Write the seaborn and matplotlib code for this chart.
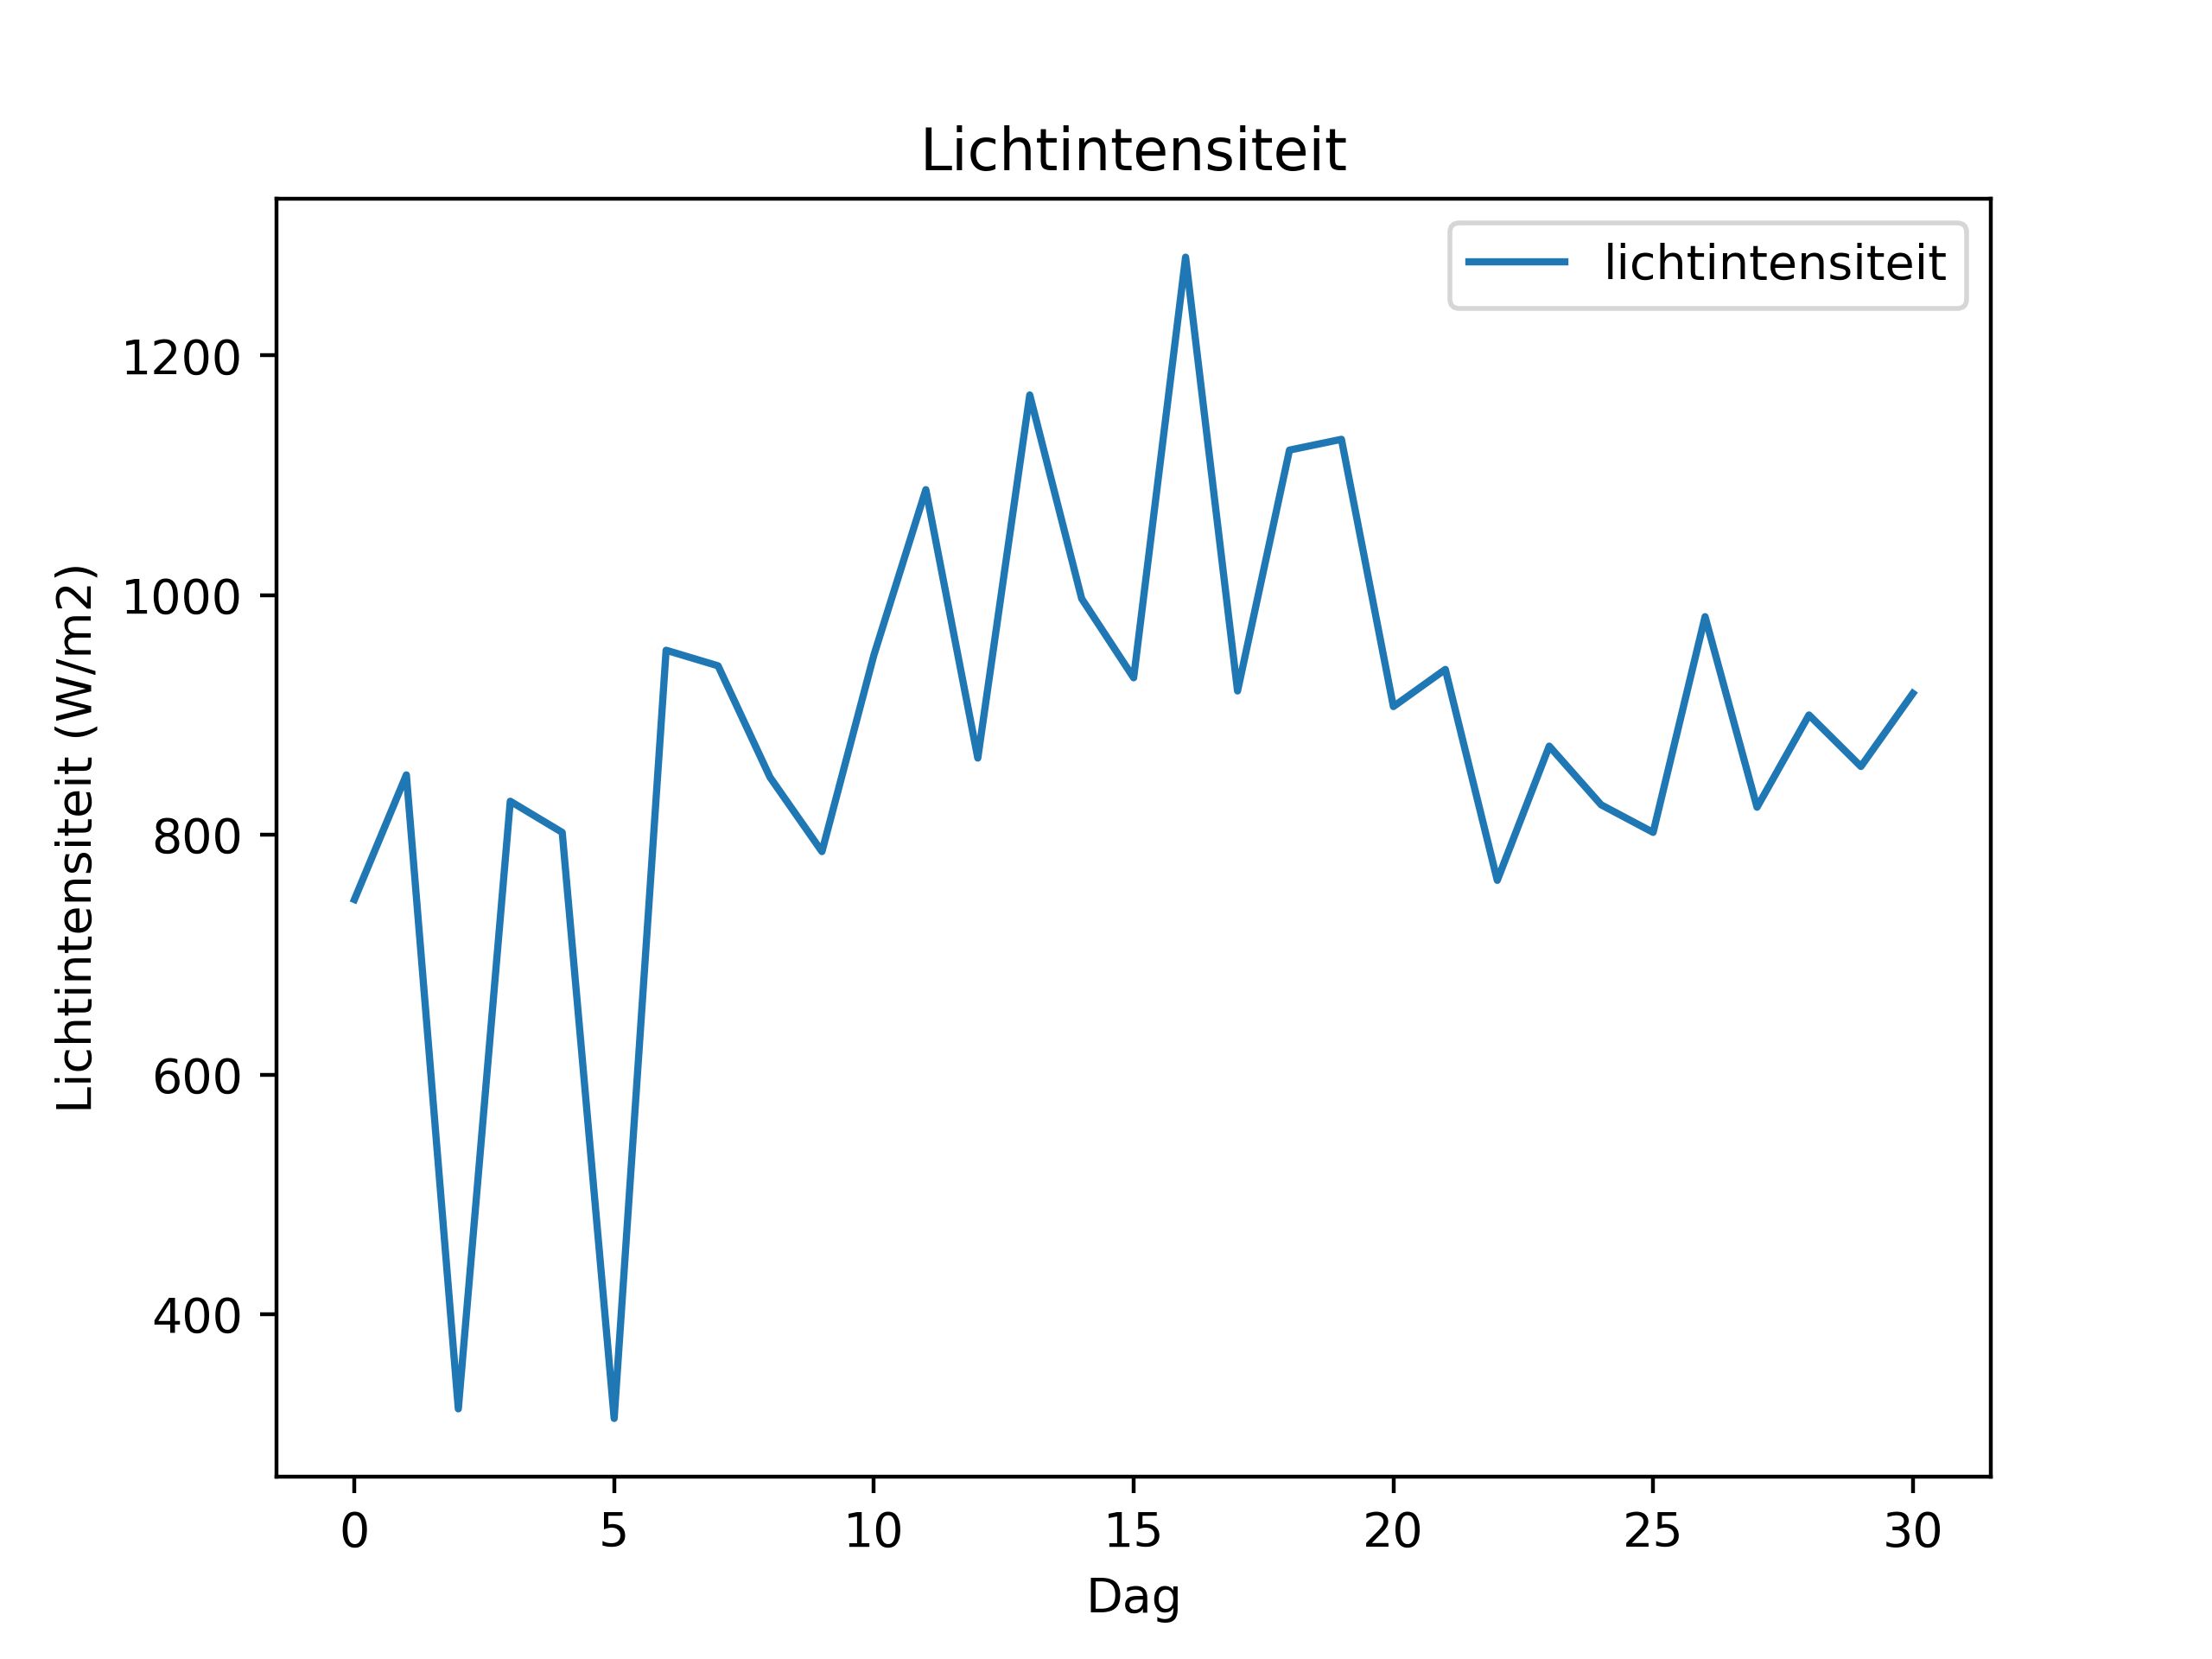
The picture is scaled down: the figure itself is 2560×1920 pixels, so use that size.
import matplotlib
matplotlib.use("Agg")
import matplotlib.pyplot as plt
import seaborn as sns
import pandas as pd

dag = list(range(31))
lichtintensiteit = [746, 850, 321, 828, 802, 313, 954, 941, 848, 786,
                    950, 1088, 864, 1167, 997, 931, 1282, 920, 1121, 1130,
                    907, 938, 762, 874, 825, 802, 982, 823, 900, 857, 918]

df = pd.DataFrame({"Dag": dag, "lichtintensiteit": lichtintensiteit})

fig, ax = plt.subplots(figsize=(6.4, 4.8), dpi=400)
sns.lineplot(data=df, x="Dag", y="lichtintensiteit", ax=ax,
             label="lichtintensiteit", color="#1f77b4")
ax.set_title("Lichtintensiteit")
ax.set_xlabel("Dag")
ax.set_ylabel("Lichtintensiteit (W/m2)")
ax.legend(loc="upper right")
fig.savefig("out.png", dpi=400)
